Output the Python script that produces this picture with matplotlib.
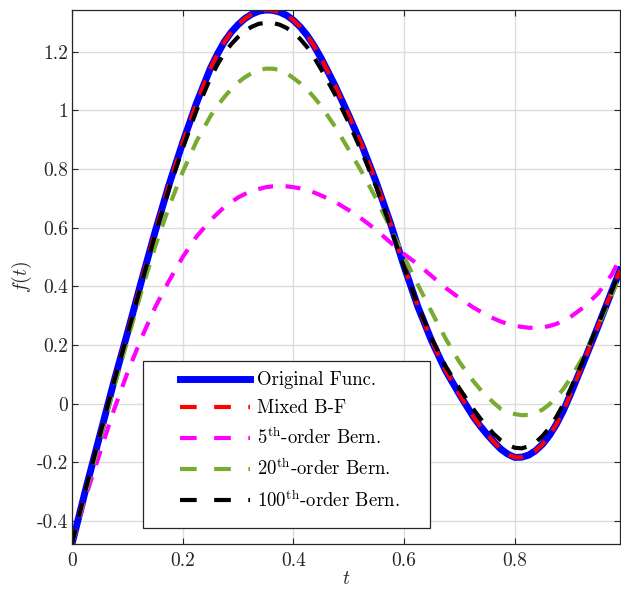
import numpy as np
import matplotlib
matplotlib.use('Agg')
import matplotlib.pyplot as plt
from matplotlib.patches import Rectangle

plt.rcParams['font.family'] = 'serif'
plt.rcParams['font.serif'] = ['cmr10', 'DejaVu Serif']
plt.rcParams['mathtext.fontset'] = 'cm'
plt.rcParams['axes.unicode_minus'] = False

# sample points (denser near the extrema)
t = [0, 0.025, 0.05, 0.075, 0.1, 0.125, 0.15, 0.175, 0.2, 0.225,
     0.25, 0.2625, 0.275, 0.2875, 0.3, 0.3125, 0.325, 0.3375, 0.35, 0.3625,
     0.375, 0.3875, 0.4, 0.4125, 0.425, 0.4375, 0.45, 0.475, 0.5, 0.525,
     0.55, 0.575, 0.6, 0.625, 0.65, 0.675, 0.7, 0.725, 0.7375, 0.75,
     0.7625, 0.775, 0.7875, 0.8, 0.8125, 0.825, 0.8375, 0.85, 0.8625, 0.875,
     0.8875, 0.9, 0.925, 0.95, 0.975, 0.99]

orig = [-0.478, -0.29, -0.11, 0.07, 0.24, 0.415, 0.585, 0.745, 0.89, 1.025,
        1.143, 1.191, 1.233, 1.266, 1.292, 1.313, 1.328, 1.338, 1.342, 1.341,
        1.335, 1.324, 1.307, 1.284, 1.255, 1.219, 1.178, 1.085, 0.983, 0.875,
        0.753, 0.617, 0.468, 0.33, 0.213, 0.113, 0.032, -0.044, -0.076, -0.105,
        -0.131, -0.155, -0.172, -0.183, -0.182, -0.175, -0.16, -0.138, -0.108, -0.07,
        -0.024, 0.03, 0.145, 0.262, 0.383, 0.455]

mixed = [-0.478, -0.29, -0.11, 0.07, 0.24, 0.415, 0.585, 0.745, 0.89, 1.025,
         1.143, 1.191, 1.233, 1.266, 1.292, 1.313, 1.328, 1.338, 1.342, 1.341,
         1.335, 1.324, 1.307, 1.284, 1.255, 1.219, 1.178, 1.085, 0.983, 0.875,
         0.753, 0.617, 0.468, 0.33, 0.213, 0.113, 0.032, -0.044, -0.076, -0.105,
         -0.131, -0.155, -0.172, -0.183, -0.182, -0.175, -0.16, -0.138, -0.108, -0.07,
         -0.024, 0.03, 0.145, 0.262, 0.383, 0.455]

bern5 = [-0.478, -0.315, -0.17, -0.025, 0.105, 0.222, 0.328, 0.418, 0.5, 0.57,
         0.625, 0.648, 0.67, 0.687, 0.703, 0.715, 0.725, 0.732, 0.738, 0.741,
         0.742, 0.741, 0.738, 0.734, 0.728, 0.72, 0.71, 0.688, 0.66, 0.628,
         0.592, 0.55, 0.51, 0.475, 0.435, 0.395, 0.36, 0.328, 0.315, 0.302,
         0.29, 0.28, 0.272, 0.266, 0.262, 0.259, 0.259, 0.26, 0.265, 0.272,
         0.283, 0.295, 0.33, 0.375, 0.44, 0.495]

bern20 = [-0.478, -0.30, -0.125, 0.05, 0.215, 0.38, 0.535, 0.67, 0.79, 0.895,
          0.98, 1.015, 1.045, 1.072, 1.095, 1.113, 1.127, 1.137, 1.142, 1.142,
          1.138, 1.127, 1.11, 1.092, 1.07, 1.044, 1.015, 0.945, 0.866, 0.785,
          0.697, 0.6, 0.5, 0.405, 0.312, 0.222, 0.142, 0.077, 0.049, 0.025,
          0.002, -0.018, -0.029, -0.035, -0.039, -0.038, -0.032, -0.02, -0.002, 0.022,
          0.05, 0.085, 0.165, 0.262, 0.37, 0.44]

bern100 = [-0.478, -0.29, -0.11, 0.068, 0.235, 0.405, 0.575, 0.73, 0.87, 1.0,
           1.11, 1.155, 1.195, 1.225, 1.25, 1.271, 1.285, 1.295, 1.298, 1.298,
           1.292, 1.281, 1.265, 1.243, 1.215, 1.18, 1.14, 1.055, 0.958, 0.852,
           0.737, 0.605, 0.465, 0.335, 0.222, 0.128, 0.052, -0.018, -0.05, -0.078,
           -0.104, -0.125, -0.14, -0.15, -0.152, -0.145, -0.132, -0.11, -0.082, -0.045,
           -0.002, 0.048, 0.155, 0.268, 0.383, 0.455]

labels = ['Original Func.', 'Mixed B-F', r'5$^{\mathrm{th}}$-order Bern.',
          r'20$^{\mathrm{th}}$-order Bern.', r'100$^{\mathrm{th}}$-order Bern.']

fig = plt.figure(figsize=(6.21, 5.89), dpi=100)
ax = fig.add_axes([72/621, 45/589, 548/621, 534/589])

dash = (3.6, 3.0)
ax.plot(t, orig, color=(0, 0, 1), lw=5, label=labels[0])
ax.plot(t, mixed, color=(1, 0, 0), lw=3, dashes=dash, label=labels[1])
ax.plot(t, bern5, color=(1, 0, 1), lw=3, dashes=dash, label=labels[2])
ax.plot(t, bern20, color=(0.466, 0.674, 0.188), lw=3, dashes=dash, label=labels[3])
ax.plot(t, bern100, color='black', lw=3, dashes=dash, label=labels[4])

ax.set_xlim(0, 0.99)
ax.set_ylim(-0.478, 1.342)
ax.set_xticks([0, 0.2, 0.4, 0.6, 0.8])
ax.set_yticks([-0.4, -0.2, 0, 0.2, 0.4, 0.6, 0.8, 1, 1.2])
ax.set_xticklabels(['0', '0.2', '0.4', '0.6', '0.8'])
ax.set_yticklabels(['-0.4', '-0.2', '0', '0.2', '0.4', '0.6', '0.8', '1', '1.2'])
ax.tick_params(direction='in', top=True, right=True, labelsize=14,
               color='#262626', labelcolor='#262626', length=4, width=0.8)
ax.tick_params(axis='x', pad=6)
ax.tick_params(axis='y', pad=3)
ax.grid(True, color='#dcdcdc', lw=1)
ax.set_axisbelow(True)
for s in ax.spines.values():
    s.set_color('#262626')
    s.set_linewidth(0.9)

ax.set_xlabel('$t$', fontsize=14, color='#262626', labelpad=0)
ax.set_ylabel('$f(t)$', fontsize=14, color='#262626', labelpad=2)

# legend box drawn separately so the padding can differ per side
box = Rectangle((0.1296, 0.030), 0.5237, 0.3127, transform=ax.transAxes,
                facecolor='white', edgecolor='#262626', lw=0.9, zorder=4)
ax.add_patch(box)
leg = ax.legend(loc='upper left', bbox_to_anchor=(0.197, 0.3236), fontsize=13.5,
                handlelength=3.75, labelspacing=0.54, frameon=False,
                borderpad=0, borderaxespad=0, handletextpad=0.38)
leg.set_zorder(5)
for ln in leg.get_lines()[1:]:
    ln.set_dashes((4.0, 4.2))

fig.savefig('out.png', dpi=100)
